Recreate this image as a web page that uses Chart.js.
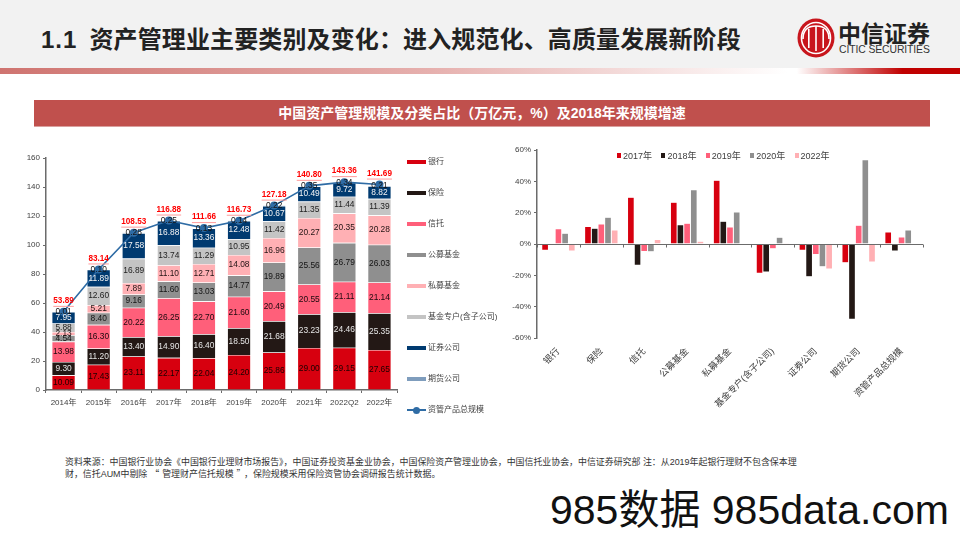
<!DOCTYPE html>
<html lang="zh">
<head>
<meta charset="utf-8">
<title>资产管理业主要类别及变化</title>
<script src="https://cdn.jsdelivr.net/npm/chart.js@4"></script>
<style>
    html, body { margin: 0; padding: 0; background: #fff; }
    body { position: relative; width: 960px; height: 540px; overflow: hidden; font-family: "Liberation Sans", "Noto Sans CJK SC", sans-serif; }
    .abs { position: absolute; white-space: nowrap; }
    #headBand { left: 0; top: 0; width: 960px; height: 68px; background: #f2f2f2; }
    #headStrip { left: 0; top: 68px; width: 960px; height: 6px; background: linear-gradient(90deg, #cf7470 0%, #e6b0ae 45%, #ffffff 82%, #ffffff 83%, #c00000 94%, #c00000 100%); }
    #title { left: 41px; top: 23px; font-size: 24px; line-height: 34px; font-weight: 700; color: #222; letter-spacing: 0.13px; }
    #title .num { margin-right: 12px; letter-spacing: 1px; }
    #logoCn { left: 838px; top: 18px; font-size: 23px; line-height: 28px; font-weight: 700; color: #222; font-family: "Noto Sans CJK SC", serif; }
    #logoEn { left: 839px; top: 44px; font-size: 10.4px; line-height: 12px; color: #333; letter-spacing: -0.1px; }
    #banner { left: 34px; top: 100px; width: 896px; height: 26px; line-height: 26px; background: #c0504d; color: #fff; text-align: center; font-size: 14px; font-weight: 700; border-bottom: 1px solid #d9a09e; box-sizing: content-box; }
    #leftChart { left: 20px; top: 141px; width: 390px; height: 290px; }
    #rightChart { left: 500px; top: 136px; width: 440px; height: 280px; }
    .legRow { position: absolute; left: 407px; font-size: 8px; color: #404040; white-space: nowrap; height: 10px; line-height: 10px; }
    .legRow i { position: absolute; left: 0; top: 3px; width: 19px; height: 4px; }
    .legRow span { position: absolute; left: 21px; top: 0; }
    .legRow b { position: absolute; left: 6px; top: 1.5px; width: 7px; height: 7px; border-radius: 50%; }
    .topLeg { position: absolute; top: 151px; font-size: 9px; line-height: 11px; color: #404040; white-space: nowrap; }
    .topLeg i { display: inline-block; width: 4px; height: 5px; margin-right: 2px; vertical-align: 1px; }
    #note { left: 65px; top: 456px; font-size: 8.93px; line-height: 12px; color: #333; }
    #note .q { font-family: "Noto Sans CJK SC", sans-serif; margin: 0 3px; }
    #mark { left: 550px; top: 486px; font-size: 41px; line-height: 48px; color: #111; font-family: "Liberation Sans", "Noto Sans CJK SC", sans-serif; }
</style>
</head>
<body>
<div class="abs" id="headBand"></div>
<div class="abs" id="headStrip"></div>
<div class="abs" id="title"><span class="num">1.1</span>资产管理业主要类别及变化：进入规范化、高质量发展新阶段</div>
<svg class="abs" style="left:796px;top:18px" width="40" height="40" viewBox="0 0 40 40">
    <ellipse cx="20" cy="20" rx="18.5" ry="19.5" fill="#c8161d"/>
    <ellipse cx="20" cy="20" rx="14.5" ry="15.5" fill="none" stroke="#fff" stroke-width="1.6"/>
    <path d="M7 21 Q7 8 20 8 Q33 8 33 21" fill="none" stroke="#fff" stroke-width="1.6"/>
    <rect x="12" y="11" width="1.6" height="19" fill="#fff"/>
    <rect x="19.2" y="8" width="1.6" height="25" fill="#fff"/>
    <rect x="26.4" y="11" width="1.6" height="19" fill="#fff"/>
</svg>
<div class="abs" id="logoCn">中信证券</div>
<div class="abs" id="logoEn">CITIC SECURITIES</div>
<div class="abs" id="banner">中国资产管理规模及分类占比（万亿元，%）及2018年来规模增速</div>

<div class="abs" id="leftChart"><canvas id="stackCanvas" width="390" height="290"></canvas></div>
<div class="abs" id="rightChart"><canvas id="growthCanvas" width="440" height="280"></canvas></div>
<div id="leftLegend"></div>
<div id="rightLegend"></div>

<div class="abs" id="note">资料来源：中国银行业协会《中国银行业理财市场报告》，中国证券投资基金业协会，中国保险资产管理业协会，中国信托业协会，中信证券研究部 注：从2019年起银行理财不包含保本理<br>财，信托AUM中剔除<span class="q">“</span>管理财产信托规模<span class="q">”</span>，保险规模采用保险资管协会调研报告统计数据。</div>
<div class="abs" id="mark">985数据 985data.com</div>

<script>
// Left chart data
const years = ['2014年', '2015年', '2016年', '2017年', '2018年', '2019年', '2020年', '2021年', '2022Q2', '2022年'];
const bank = [10.09, 17.43, 23.11, 22.17, 22.04, 24.20, 25.86, 29.00, 29.15, 27.65];
const insurance = [9.30, 11.20, 13.40, 14.90, 16.40, 18.50, 21.68, 23.23, 24.46, 25.35];
const trust = [13.98, 16.30, 20.22, 26.25, 22.70, 21.60, 20.49, 20.55, 21.11, 21.14];
const publicFund = [4.54, 8.40, 9.16, 11.60, 13.03, 14.77, 19.89, 25.56, 26.79, 26.03];
const privateFund = [2.13, 5.21, 7.89, 11.10, 12.71, 14.08, 16.96, 20.27, 20.35, 20.28];
const fundAccount = [5.88, 12.60, 16.89, 13.74, 11.29, 10.95, 11.42, 11.35, 11.44, 11.39];
const securities = [7.95, 11.89, 17.58, 16.88, 13.36, 12.48, 10.67, 10.49, 9.72, 8.82];
const futures = [0.01, 0.10, 0.28, 0.25, 0.13, 0.14, 0.22, 0.35, 0.34, 0.21];
const totalScale = [53.89, 83.14, 108.53, 116.88, 111.66, 116.73, 127.18, 140.80, 143.36, 141.69];

// Right chart data
const growthCategories = ['银行', '保险', '信托', '公募基金', '私募基金', '基金专户(含子公司)', '证券公司', '期货公司', '资管产品总规模'];
const growth2017 = [-4.0, 11.2, 29.8, 26.7, 40.7, -18.6, -4.0, -12.0, 7.7];
const growth2018 = [-0.6, 10.0, -13.5, 12.3, 14.5, -17.8, -20.9, -48.0, -4.5];
const growth2019 = [9.8, 12.8, -4.8, 13.3, 10.8, -3.0, -6.7, 12.0, 4.5];
const growth2020 = [6.9, 17.0, -5.0, 34.7, 20.5, 4.3, -14.6, 53.7, 9.0];
const growth2022 = [-4.5, 9.0, 2.9, 1.8, 0.2, 0.1, -15.9, -11.5, 0.2];

const FONT = '"Liberation Sans", "Noto Sans CJK SC", sans-serif';
const AXIS_GREY = '#6b6b6b';
const TEXT_GREY = '#404040';

// name, values, fill colour, label colour
const stackSeries = [
    ['银行', bank, '#d7000f', '#1c0000'],
    ['保险', insurance, '#231815', '#e6e6e6'],
    ['信托', trust, '#ff5f7a', '#1c0a0e'],
    ['公募基金', publicFund, '#8f8f8f', '#141414'],
    ['私募基金', privateFund, '#ffb0b4', '#221414'],
    ['基金专户(含子公司)', fundAccount, '#c4c4c4', '#222222'],
    ['证券公司', securities, '#003a70', '#f4f4f4'],
    ['期货公司', futures, '#7f9dbd', '#141414']
];
const lineName = '资管产品总规模';
const lineColor = '#2f6ca5';

const growthSeries = [
    ['2017年', growth2017, '#d7000f'],
    ['2018年', growth2018, '#231815'],
    ['2019年', growth2019, '#ff5f7a'],
    ['2020年', growth2020, '#8f8f8f'],
    ['2022年', growth2022, '#ffb0b4']
];

// Draws segment values and the red totals from the bar and point elements
const stackLabels = {
    id: 'stackLabels',
    afterDatasetsDraw(chart) {
        const ctx = chart.ctx;
        ctx.save();
        ctx.font = '8.4px ' + FONT;
        ctx.textAlign = 'center';
        ctx.textBaseline = 'middle';
        stackSeries.forEach((s, si) => {
            chart.getDatasetMeta(si).data.forEach((bar, i) => {
                ctx.fillStyle = s[3];
                ctx.fillText(s[1][i].toFixed(2), bar.x, (bar.y + bar.base) / 2);
            });
        });
        const line = chart.getDatasetMeta(stackSeries.length);
        ctx.font = 'bold 8.2px ' + FONT;
        line.data.forEach((pt, i) => {
            const text = totalScale[i].toFixed(2);
            const w = ctx.measureText(text).width;
            ctx.fillStyle = '#ff0000';
            ctx.fillText(text, pt.x, pt.y - 11);
            ctx.fillStyle = '#ff9c9c';
            ctx.fillRect(pt.x - w / 2, pt.y - 6, w, 1);
        });
        ctx.restore();
    }
};

// Zero line with tick marks between the categories
const zeroAxis = {
    id: 'zeroAxis',
    afterDatasetsDraw(chart) {
        const ctx = chart.ctx;
        const y = Math.round(chart.scales.y.getPixelForValue(0)) + 0.5;
        const area = chart.chartArea;
        const step = (area.right - area.left) / growthCategories.length;
        ctx.save();
        ctx.strokeStyle = AXIS_GREY;
        ctx.lineWidth = 1;
        ctx.beginPath();
        ctx.moveTo(area.left, y);
        ctx.lineTo(area.right, y);
        for (let i = 0; i <= growthCategories.length; i++) {
            const x = Math.round(area.left + step * i) + 0.5;
            ctx.moveTo(x, y);
            ctx.lineTo(x, y + 3);
        }
        ctx.stroke();
        ctx.restore();
    }
};

function yTicks(callback) {
    return { color: TEXT_GREY, font: { size: 8, family: FONT }, padding: 3, autoSkip: false, callback: callback };
}

const stackChart = new Chart(document.getElementById('stackCanvas'), {
    type: 'bar',
    data: {
        labels: years,
        datasets: stackSeries.map(s => ({
            label: s[0],
            data: s[1],
            backgroundColor: s[2],
            borderColor: 'rgba(255,255,255,0.35)',
            borderWidth: 0.6,
            stack: 'scale',
            categoryPercentage: 1,
            barPercentage: 0.67,
            order: 2
        })).concat([{
            type: 'line',
            label: lineName,
            data: totalScale,
            borderColor: lineColor,
            borderWidth: 1.6,
            backgroundColor: lineColor,
            pointRadius: 3.2,
            pointBackgroundColor: lineColor,
            pointBorderColor: lineColor,
            tension: 0,
            order: 1
        }])
    },
    options: {
        responsive: false,
        animation: false,
        layout: { padding: { top: 17, right: 13, left: 0, bottom: 0 } },
        plugins: { legend: { display: false }, tooltip: { enabled: false } },
        scales: {
            x: {
                stacked: true,
                grid: { display: true, drawOnChartArea: false, drawTicks: true, tickLength: 3, color: AXIS_GREY, offset: true },
                border: { color: AXIS_GREY, width: 1.5 },
                ticks: { color: TEXT_GREY, font: { size: 8, family: FONT }, padding: 5, maxRotation: 0, autoSkip: false },
                afterFit(scale) { scale.height = 41; }
            },
            y: {
                stacked: true,
                min: 0,
                max: 160,
                afterBuildTicks(scale) { scale.ticks = [0, 20, 40, 60, 80, 100, 120, 140, 160].map(v => ({ value: v })); },
                grid: { display: true, drawOnChartArea: false, tickLength: 3, color: AXIS_GREY },
                border: { color: AXIS_GREY, width: 1.5 },
                ticks: yTicks(v => v),
                afterFit(scale) { scale.width = 26; }
            }
        }
    },
    plugins: [stackLabels]
});

const growthChart = new Chart(document.getElementById('growthCanvas'), {
    type: 'bar',
    data: {
        labels: growthCategories,
        datasets: growthSeries.map(s => ({
            label: s[0],
            data: s[1],
            backgroundColor: s[2],
            borderColor: 'rgba(255,255,255,0.3)',
            borderWidth: 0.5,
            categoryPercentage: 0.778,
            barPercentage: 1
        }))
    },
    options: {
        responsive: false,
        animation: false,
        layout: { padding: { top: 14, right: 17, left: 0, bottom: 0 } },
        plugins: { legend: { display: false }, tooltip: { enabled: false } },
        scales: {
            x: {
                grid: { display: false },
                border: { display: false },
                ticks: { color: TEXT_GREY, font: { size: 9.2, family: FONT }, padding: 0, minRotation: 45, maxRotation: 45, autoSkip: false },
                afterFit(scale) { scale.height = 78; }
            },
            y: {
                min: -60,
                max: 60,
                afterBuildTicks(scale) { scale.ticks = [-60, -40, -20, 0, 20, 40, 60].map(v => ({ value: v })); },
                grid: { display: true, drawOnChartArea: false, tickLength: 3, color: AXIS_GREY },
                border: { color: AXIS_GREY, width: 1.5 },
                ticks: yTicks(v => v + '%'),
                afterFit(scale) { scale.width = 37; }
            }
        }
    },
    plugins: [zeroAxis]
});

// HTML legends
function buildLeftLegend() {
    const box = document.getElementById('leftLegend');
    stackSeries.forEach((s, i) => {
        const row = document.createElement('div');
        row.className = 'legRow';
        row.style.top = (157 + i * 31) + 'px';
        row.innerHTML = `<i style="background:${s[2]}"></i><span>${s[0]}</span>`;
        box.appendChild(row);
    });
    const row = document.createElement('div');
    row.className = 'legRow';
    row.style.top = (157 + stackSeries.length * 31) + 'px';
    row.innerHTML = `<i style="background:${lineColor};height:1.5px;top:4px"></i><b style="background:${lineColor}"></b><span>${lineName}</span>`;
    box.appendChild(row);
}

function buildRightLegend() {
    const box = document.getElementById('rightLegend');
    growthSeries.forEach((s, i) => {
        const item = document.createElement('div');
        item.className = 'topLeg';
        item.style.left = (617 + i * 44.4) + 'px';
        item.innerHTML = `<i style="background:${s[2]}"></i>${s[0]}`;
        box.appendChild(item);
    });
}

buildLeftLegend();
buildRightLegend();
</script>
</body>
</html>
